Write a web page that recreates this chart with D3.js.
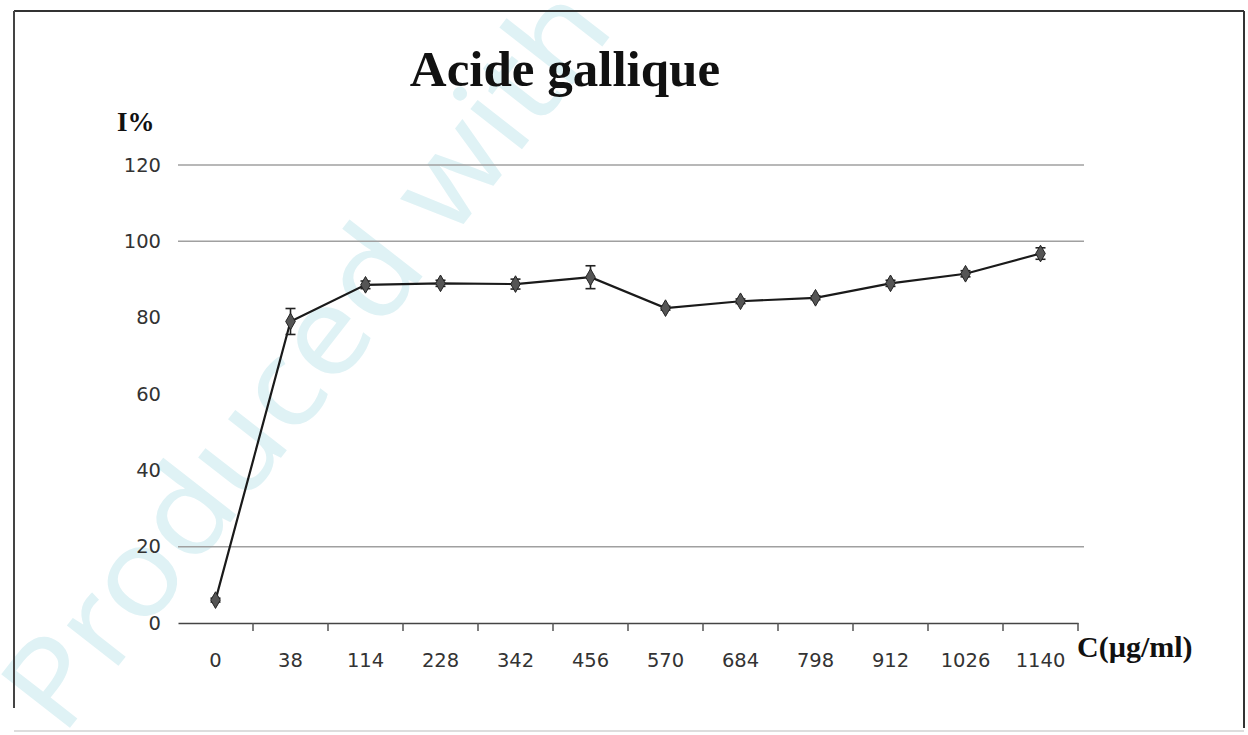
<!DOCTYPE html>
<html>
<head>
<meta charset="utf-8">
<script src="https://cdn.jsdelivr.net/npm/d3@7"></script>
<style>
  html, body { margin: 0; padding: 0; background: #fff; }
  svg { display: block; }
</style>
</head>
<body>
<svg id="chart" width="1248" height="735"></svg>
<script>
const categories = ["0", "38", "114", "228", "342", "456", "570", "684", "798", "912", "1026", "1140"];
const values = [6, 79, 88.6, 89, 88.8, 90.6, 82.5, 84.3, 85.2, 89, 91.5, 96.8];
const errors = [0.5, 3.4, 1, 0.8, 1.3, 3, 0.5, 0.6, 0.5, 0.8, 0.8, 1.5];
const yTicks = [0, 20, 40, 60, 80, 100, 120];
const gridValues = [20, 100, 120];
const titleText = "Acide gallique";
const yLabel = "I%";
const xLabel = "C(\u00b5g/ml)";
const watermark = "Produced with";

const svg = d3.select("#chart");

const x = d3.scaleBand().domain(categories).range([178, 1078]).padding(0);
const y = d3.scaleLinear().domain([0, 120]).range([623, 165]);
const cx = c => x(c) + x.bandwidth() / 2;

// watermark
svg.append("text")
  .attr("transform", "translate(62,738) rotate(-52)")
  .attr("font-family", "'Noto Sans', sans-serif")
  .attr("font-size", 122)
  .attr("fill", "#dff2f5")
  .attr("textLength", 900)
  .attr("lengthAdjust", "spacingAndGlyphs")
  .text(watermark);

// frame
const frame = svg.append("g").attr("fill", "none");
frame.append("line").attr("x1", 14).attr("y1", 11).attr("x2", 1244).attr("y2", 11).attr("stroke", "#333").attr("stroke-width", 2);
frame.append("line").attr("x1", 14).attr("y1", 11).attr("x2", 14).attr("y2", 708).attr("stroke", "#444").attr("stroke-width", 2);
frame.append("line").attr("x1", 1244).attr("y1", 11).attr("x2", 1244).attr("y2", 728).attr("stroke", "#333").attr("stroke-width", 2);
frame.append("line").attr("x1", 14).attr("y1", 731).attr("x2", 1244).attr("y2", 731).attr("stroke", "#ddd").attr("stroke-width", 2);

// gridlines
svg.append("g")
  .selectAll("line")
  .data(gridValues)
  .join("line")
  .attr("x1", 178).attr("x2", 1084)
  .attr("y1", d => y(d)).attr("y2", d => y(d))
  .attr("stroke", "#a0a0a0")
  .attr("stroke-width", 1.5);

// y axis (labels only)
const yAxis = svg.append("g")
  .attr("transform", "translate(161,0)")
  .call(d3.axisLeft(y).tickValues(yTicks).tickSize(0).tickPadding(0));
yAxis.select(".domain").remove();
yAxis.selectAll("text")
  .attr("font-family", "'DejaVu Sans', sans-serif")
  .attr("font-size", 19.5)
  .attr("fill", "#333");

// x axis
const xAxis = svg.append("g")
  .attr("transform", `translate(0,${y(0)})`)
  .call(d3.axisBottom(x).tickSize(0).tickPadding(30));
xAxis.select(".domain").attr("stroke", "#444").attr("stroke-width", 1.5);
xAxis.selectAll("text")
  .attr("font-family", "'DejaVu Sans', sans-serif")
  .attr("font-size", 19.5)
  .attr("fill", "#333");
// tick marks at band boundaries
svg.append("g")
  .selectAll("line")
  .data(categories)
  .join("line")
  .attr("x1", d => x(d) + x.bandwidth()).attr("x2", d => x(d) + x.bandwidth())
  .attr("y1", y(0)).attr("y2", y(0) + 8)
  .attr("stroke", "#555").attr("stroke-width", 1.5);

// line
const line = d3.line().x((d, i) => cx(categories[i])).y(d => y(d));
svg.append("path")
  .datum(values)
  .attr("d", line)
  .attr("fill", "none")
  .attr("stroke", "#1a1a1a")
  .attr("stroke-width", 2.2);

// error bars
const eb = svg.append("g").attr("stroke", "#222").attr("stroke-width", 1.6);
values.forEach((v, i) => {
  const px = cx(categories[i]);
  eb.append("line").attr("x1", px).attr("x2", px).attr("y1", y(v + errors[i])).attr("y2", y(v - errors[i]));
  eb.append("line").attr("x1", px - 5).attr("x2", px + 5).attr("y1", y(v + errors[i])).attr("y2", y(v + errors[i]));
  eb.append("line").attr("x1", px - 5).attr("x2", px + 5).attr("y1", y(v - errors[i])).attr("y2", y(v - errors[i]));
});

// markers
svg.append("g")
  .selectAll("path")
  .data(values)
  .join("path")
  .attr("transform", (d, i) => `translate(${cx(categories[i])},${y(d)})`)
  .attr("d", d3.symbol(d3.symbolDiamond, 80))
  .attr("fill", "#555")
  .attr("stroke", "#222")
  .attr("stroke-width", 1);

// title and labels
svg.append("text")
  .attr("x", 565).attr("y", 86)
  .attr("text-anchor", "middle")
  .attr("font-family", "'Liberation Serif', serif")
  .attr("font-weight", "bold")
  .attr("font-size", 51)
  .attr("fill", "#111")
  .text(titleText);

svg.append("text")
  .attr("x", 117).attr("y", 131)
  .attr("font-family", "'Liberation Serif', serif")
  .attr("font-weight", "bold")
  .attr("font-size", 27)
  .attr("fill", "#111")
  .text(yLabel);

svg.append("text")
  .attr("x", 1077).attr("y", 657)
  .attr("font-family", "'Liberation Serif', serif")
  .attr("font-weight", "bold")
  .attr("font-size", 30)
  .attr("fill", "#111")
  .text(xLabel);
</script>
</body>
</html>
